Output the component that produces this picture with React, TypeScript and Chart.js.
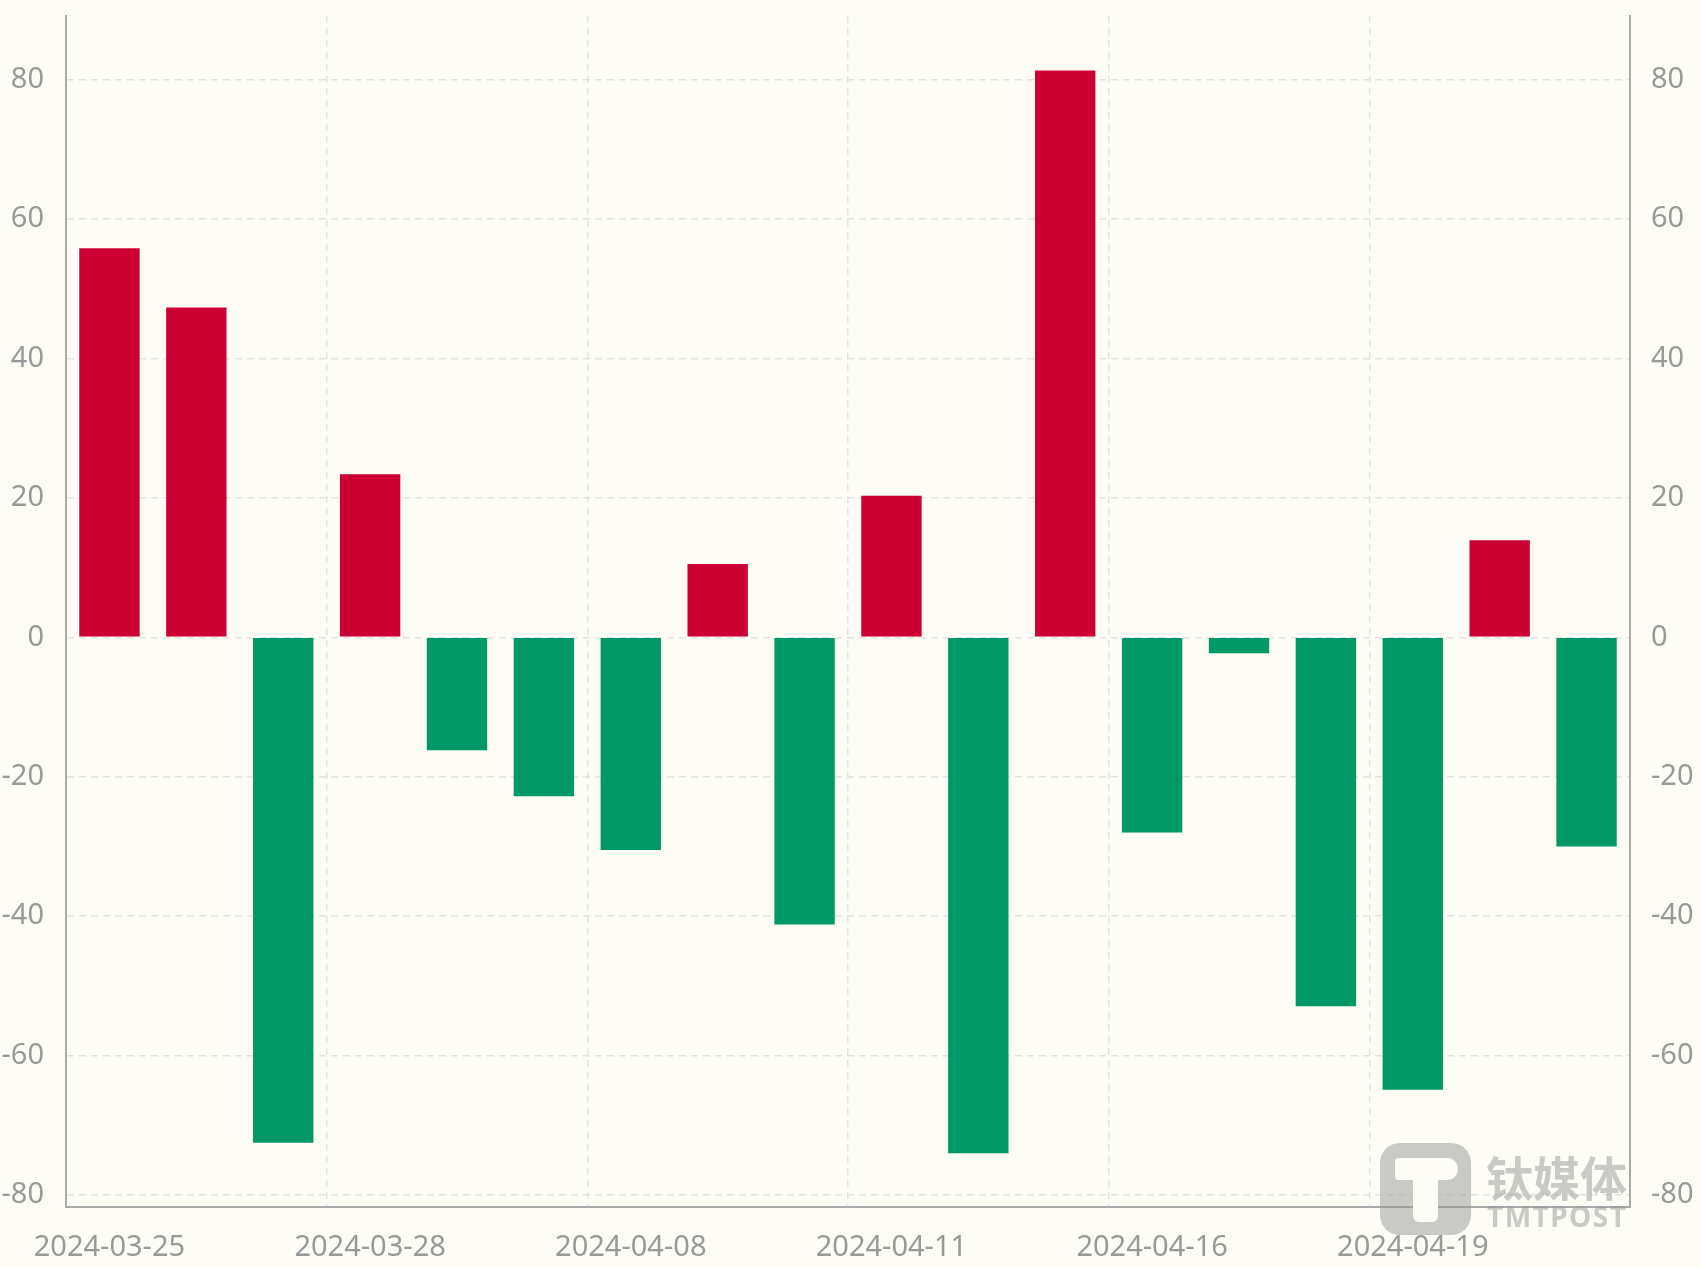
import React, { useEffect, useRef } from "react";
import { Chart, registerables } from "chart.js";

Chart.register(...registerables);

const dates = [
  "2024-03-25", "2024-03-26", "2024-03-27", "2024-03-28", "2024-03-29", "2024-04-01",
  "2024-04-08", "2024-04-09", "2024-04-10", "2024-04-11", "2024-04-12", "2024-04-15",
  "2024-04-16", "2024-04-17", "2024-04-18", "2024-04-19", "2024-04-22", "2024-04-23",
];
const netFlow = [
  55.8, 47.3, -72.5, 23.4, -16.2, -22.8,
  -30.5, 10.5, -41.2, 20.3, -74.0, 81.3,
  -28.0, -2.3, -52.9, -64.9, 13.9, -30.0,
];
const yTicks = [-80, -60, -40, -20, 0, 20, 40, 60, 80];
const yMin = -81.7;
const yMax = 89.1;

const RED = "#cc0033";
const GREEN = "#009966";
const BG = "#fdfcf5";
const AXIS = "#aaaaaa";
const GRID = "#e3e3e3";
const TICK = "#999999";
const FONT = "'Noto Sans', sans-serif";
const FS = 29;

export default function App() {
  const ref = useRef<HTMLCanvasElement | null>(null);

  useEffect(() => {
    document.body.style.margin = "0";
    document.body.style.background = BG;
    if (!ref.current) return;
    const setTicks = (axis: any) => {
      axis.ticks = yTicks.map((v) => ({ value: v }));
    };
    const fitY = (w: number) => (s: any) => {
      s.width = w;
      s.paddingTop = 0;
      s.paddingBottom = 0;
    };
    const chart = new Chart(ref.current, {
      type: "bar",
      data: {
        labels: dates,
        datasets: [
          {
            data: netFlow,
            backgroundColor: netFlow.map((v) => (v >= 0 ? RED : GREEN)),
            borderWidth: 0,
            categoryPercentage: 1,
            barPercentage: 0.695,
          },
        ],
      },
      options: {
        animation: false,
        responsive: false,
        devicePixelRatio: 1,
        layout: { padding: { top: 16, left: 0, right: 0, bottom: 0 } },
        plugins: {
          legend: { display: false },
          tooltip: { enabled: false },
        },
        scales: {
          x: {
            type: "category",
            offset: true,
            afterFit: (s: any) => {
              s.height = 60;
              s.paddingLeft = 0;
              s.paddingRight = 0;
            },
            grid: {
              offset: true,
              drawTicks: false,
              lineWidth: 1.5,
              color: (ctx: any) => (ctx.index % 3 === 0 ? GRID : "rgba(0,0,0,0)"),
            },
            border: { display: true, color: AXIS, width: 2, dash: [7, 5] as any },
            ticks: {
              autoSkip: false,
              maxRotation: 0,
              minRotation: 0,
              padding: 23,
              color: TICK,
              font: { family: FONT, size: FS },
              callback: (_v: any, i: number) => (i % 3 === 0 ? dates[i] : ""),
            },
          },
          y: {
            type: "linear",
            position: "left",
            min: yMin,
            max: yMax,
            afterBuildTicks: setTicks,
            afterFit: fitY(66),
            grid: {
              drawTicks: false,
              color: GRID,
              lineWidth: 1.5,
            },
            border: { display: true, color: AXIS, width: 2, dash: [7, 5] },
            ticks: {
              padding: 22,
              color: TICK,
              font: { family: FONT, size: FS },
            },
          },
          y2: {
            type: "linear",
            position: "right",
            min: yMin,
            max: yMax,
            afterBuildTicks: setTicks,
            afterFit: fitY(71),
            grid: { display: false, drawTicks: false },
            border: { display: true, color: AXIS, width: 2 },
            ticks: {
              padding: 21,
              color: TICK,
              font: { family: FONT, size: FS },
            },
          },
        },
      },
    } as any);
    return () => chart.destroy();
  }, []);

  const wm = "rgba(150,150,150,0.5)";
  return (
    <div style={{ position: "relative", width: 1701, height: 1267, background: BG }}>
      <canvas ref={ref} width={1701} height={1267} style={{ display: "block" }} />
      <div style={{ position: "absolute", left: 1380, top: 1143, width: 91, height: 92, borderRadius: 20, background: wm, pointerEvents: "none" }}>
        <div style={{ position: "absolute", left: 15, top: 15, width: 63, height: 22, borderRadius: "4px 11px 11px 4px", background: BG }} />
        <div style={{ position: "absolute", left: 33, top: 30, width: 25, height: 49, borderRadius: "0 0 6px 6px", background: BG }} />
      </div>
      <div style={{ position: "absolute", left: 1486, top: 1146, fontFamily: "'Noto Sans CJK SC', sans-serif", fontWeight: 700, fontSize: 47, lineHeight: "60px", color: wm, pointerEvents: "none", whiteSpace: "nowrap" }}>
        钛媒体
      </div>
      <div style={{ position: "absolute", left: 1487, top: 1199, fontFamily: FONT, fontWeight: 700, fontSize: 28, lineHeight: "34px", letterSpacing: 1.5, color: wm, pointerEvents: "none", whiteSpace: "nowrap" }}>
        TMTPOST
      </div>
    </div>
  );
}
